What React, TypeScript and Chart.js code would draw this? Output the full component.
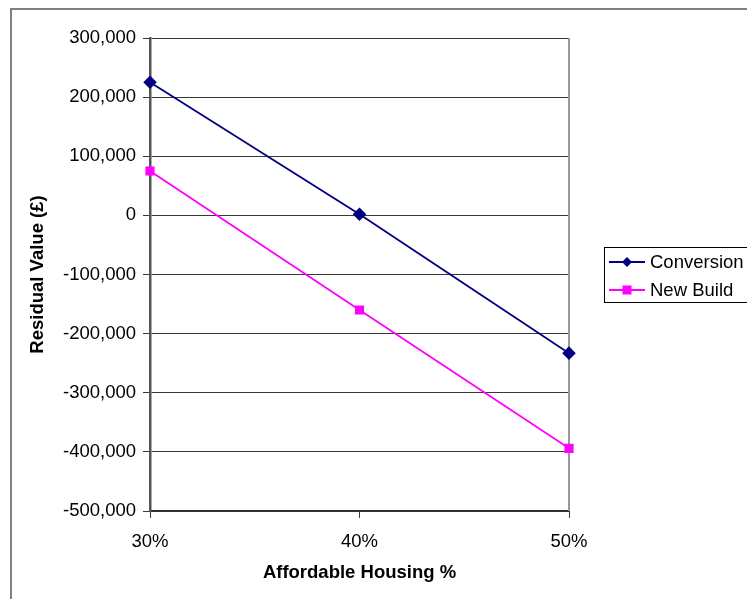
import React, { useEffect, useRef } from "react";
import { Chart, registerables } from "chart.js";

Chart.register(...registerables);

const categories = ["30%", "40%", "50%"];
const conversion = [225000, 2000, -233000];
const newBuild = [75000, -160000, -394000];
const seriesNames = ["Conversion", "New Build"];
const yMin = -500000;
const yMax = 300000;
const yStep = 100000;

const FONT = "'Liberation Sans', Arial, sans-serif";
const FS = 18.5;

const framePlugin = {
  id: "framePlugin",
  beforeDraw(chart: any) {
    const ctx = chart.ctx;
    ctx.save();
    ctx.fillStyle = "#ffffff";
    ctx.fillRect(0, 0, chart.width, chart.height);
    ctx.strokeStyle = "#808080";
    ctx.lineWidth = 2;
    ctx.beginPath();
    ctx.moveTo(11, chart.height + 5);
    ctx.lineTo(11, 9);
    ctx.lineTo(chart.width + 5, 9);
    ctx.stroke();
    ctx.restore();
  },
  beforeDatasetsDraw(chart: any) {
    const ctx = chart.ctx;
    const a = chart.chartArea;
    ctx.save();
    ctx.strokeStyle = "#999999";
    ctx.lineWidth = 2;
    ctx.beginPath();
    ctx.moveTo(a.right, a.top);
    ctx.lineTo(a.right, a.bottom);
    ctx.stroke();
    ctx.restore();
  },
  afterDraw(chart: any) {
    const ctx = chart.ctx;
    ctx.save();
    const lx = 604;
    const ly = 247;
    ctx.strokeStyle = "#000000";
    ctx.lineWidth = 1;
    ctx.strokeRect(lx + 0.5, ly + 0.5, 200, 55);
    const items = chart.data.datasets;
    items.forEach((ds: any, i: number) => {
      const y = ly + 15 + i * 28;
      ctx.strokeStyle = ds.borderColor;
      ctx.lineWidth = 2;
      ctx.beginPath();
      ctx.moveTo(lx + 5, y);
      ctx.lineTo(lx + 41, y);
      ctx.stroke();
      ctx.fillStyle = ds.pointBackgroundColor;
      const cx = lx + 23;
      if (ds.pointStyle === "rectRot") {
        ctx.beginPath();
        ctx.moveTo(cx, y - 5);
        ctx.lineTo(cx + 5, y);
        ctx.lineTo(cx, y + 5);
        ctx.lineTo(cx - 5, y);
        ctx.closePath();
        ctx.fill();
      } else {
        ctx.fillRect(cx - 4.5, y - 4.5, 9, 9);
      }
      ctx.fillStyle = "#000000";
      ctx.font = `${FS}px ${FONT}`;
      ctx.textBaseline = "middle";
      ctx.textAlign = "left";
      ctx.fillText(ds.label, lx + 46, y + 1);
    });
    ctx.restore();
  },
};

export default function App() {
  const ref = useRef<HTMLCanvasElement>(null);
  useEffect(() => {
    if (!ref.current) return;
    const chart = new Chart(ref.current, {
      type: "line",
      data: {
        labels: categories,
        datasets: [
          {
            label: seriesNames[0],
            data: conversion,
            borderColor: "#000080",
            backgroundColor: "#000080",
            pointBackgroundColor: "#000080",
            pointBorderColor: "#000080",
            pointStyle: "rectRot",
            pointRadius: 5.5,
            borderWidth: 1.8,
            tension: 0,
            clip: false,
          },
          {
            label: seriesNames[1],
            data: newBuild,
            borderColor: "#ff00ff",
            backgroundColor: "#ff00ff",
            pointBackgroundColor: "#ff00ff",
            pointBorderColor: "#ff00ff",
            pointStyle: "rect",
            pointRadius: 5.2,
            borderWidth: 1.8,
            tension: 0,
            clip: false,
          },
        ] as any,
      },
      options: {
        animation: false,
        responsive: false,
        maintainAspectRatio: false,
        layout: { padding: { left: 27, right: 178, top: 38, bottom: 15 } },
        plugins: { legend: { display: false }, tooltip: { enabled: false } },
        scales: {
          x: {
            type: "category",
            offset: false,
            grid: { drawOnChartArea: false, drawTicks: true, tickLength: 7, color: "#404040", lineWidth: 1 },
            border: { display: true, color: "#303030", width: 2 },
            ticks: { color: "#000", font: { family: FONT, size: FS }, padding: 13, maxRotation: 0 },
            title: { display: true, text: "Affordable Housing %", color: "#000", font: { family: FONT, size: FS, weight: "bold" }, padding: 0 },
            afterFit: (s: any) => { s.height = 73; },
          },
          y: {
            min: yMin,
            max: yMax,
            grid: { color: "#383838", lineWidth: 1, tickLength: 7, drawTicks: true },
            border: { display: true, color: "#555555", width: 2.5 },
            ticks: {
              stepSize: yStep,
              color: "#000",
              padding: 7,
              font: { family: FONT, size: FS },
              callback: (v: any) => Number(v).toLocaleString("en-GB"),
            },
            title: { display: true, text: "Residual Value (£)", color: "#000", font: { family: FONT, size: FS, weight: "bold" }, padding: 0 },
            afterFit: (s: any) => { s.width = 123; },
          },
        },
      } as any,
      plugins: [framePlugin],
    });
    return () => chart.destroy();
  }, []);
  return (
    <div style={{ position: "fixed", left: 0, top: 0, width: 747, height: 599 }}>
      <canvas ref={ref} width={747} height={599} style={{ width: 747, height: 599 }} />
    </div>
  );
}
